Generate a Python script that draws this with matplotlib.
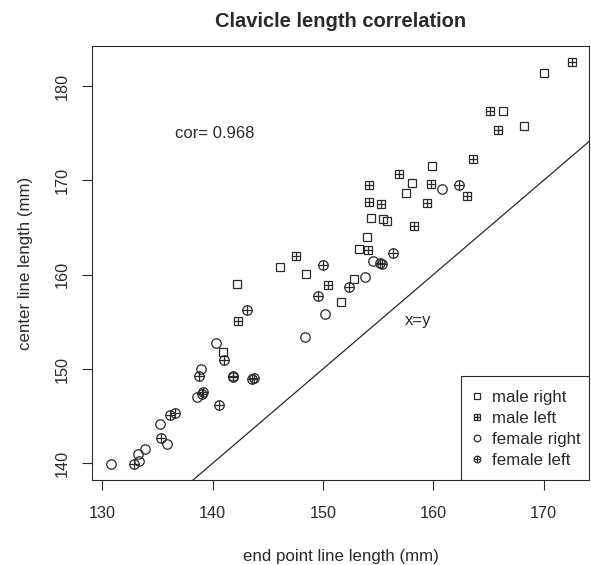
import matplotlib
matplotlib.use("Agg")
import matplotlib.pyplot as plt
from matplotlib.patches import Rectangle

plt.rcParams['font.family'] = ['Liberation Sans', 'DejaVu Sans']

# end point line length (x) and center line length (y), mm
male_right_x = [140.94, 142.18, 146.11, 148.44, 151.61, 152.82, 153.27, 154.03, 154.39,
                155.42, 155.78, 157.53, 158.10, 159.92, 166.33, 168.26, 170.05]
male_right_y = [151.83, 158.98, 160.85, 160.07, 157.14, 159.51, 162.73, 164.03, 165.98,
                165.87, 165.69, 168.63, 169.69, 171.53, 177.36, 175.77, 181.42]

male_left_x = [142.26, 147.56, 150.49, 154.12, 154.18, 155.27, 154.18, 156.90,
               158.26, 159.46, 159.77, 163.09, 163.58, 165.15, 165.85, 172.56]
male_left_y = [155.14, 161.98, 158.94, 162.65, 167.68, 167.53, 169.51, 170.68,
               165.20, 167.60, 169.65, 168.35, 172.24, 177.36, 175.34, 182.59]

female_right_x = [130.76, 133.33, 133.21, 133.87, 135.23, 135.89, 138.61, 138.92,
                  140.31, 148.38, 150.16, 153.82, 154.51, 160.77]
female_right_y = [139.89, 140.21, 140.99, 141.55, 144.14, 142.08, 147.00, 149.97,
                  152.79, 153.36, 155.86, 159.72, 161.48, 169.06]

female_left_x = [132.90, 135.32, 136.14, 136.59, 139.10, 139.04, 138.77, 140.58,
                 141.06, 141.88, 141.85, 143.54, 143.75, 143.15, 149.58, 150.04,
                 152.37, 155.18, 155.36, 156.38, 162.31]
female_left_y = [139.89, 142.65, 145.09, 145.30, 147.56, 147.40, 149.26, 146.18,
                 150.95, 149.29, 149.20, 148.91, 149.08, 156.26, 157.74, 161.06,
                 158.70, 161.21, 161.10, 162.33, 169.54]

legend_labels = ['male right', 'male left', 'female right', 'female left']
cor_text = 'cor= 0.968'

ink = '#2a2a2a'

fig = plt.figure(figsize=(5.91, 5.65), dpi=100)
ax = fig.add_axes([92 / 591, 1 - 480 / 565, 497 / 591, 434 / 565])

sq = dict(ls='none', marker='s', ms=6.2, mfc='none', mec=ink, mew=0.9)
ci = dict(ls='none', marker='o', ms=6.8, mfc='none', mec=ink, mew=0.9)

h1, = ax.plot(male_right_x, male_right_y, **sq)
h2a, = ax.plot(male_left_x, male_left_y, **sq)
h2b, = ax.plot(male_left_x, male_left_y, ls='none', marker='+', ms=6.2, mec=ink, mew=0.9)
h3, = ax.plot(female_right_x, female_right_y, **ci)
h4a, = ax.plot(female_left_x, female_left_y, **ci)
h4b, = ax.plot(female_left_x, female_left_y, ls='none', marker='+', ms=6.8, mec=ink, mew=0.9)

# x = y reference line
ax.axline((140, 140), slope=1, color=ink, lw=0.9)
ax.text(158.6, 155.1, 'x=y', ha='center', va='center', fontsize=12, color=ink)
ax.text(140.2, 175.0, cor_text, ha='center', va='center', fontsize=12, color=ink)

ax.set_xlim(129.07, 174.12)
ax.set_ylim(138.23, 184.25)
ax.set_xticks([130, 140, 150, 160, 170])
ax.set_yticks([140, 150, 160, 170, 180])
ax.tick_params(axis='both', direction='out', length=7, width=0.8, color=ink,
               labelsize=11.7, labelcolor=ink)
ax.tick_params(axis='x', pad=12)
ax.tick_params(axis='y', pad=9)
for lab in ax.get_yticklabels():
    lab.set_rotation(90)
    lab.set_va('center')
for s in ax.spines.values():
    s.set_color(ink)
    s.set_linewidth(0.8)

ax.set_xlabel('end point line length (mm)', fontsize=12.2, color=ink, labelpad=20)
ax.set_ylabel('center line length (mm)', fontsize=12.2, color=ink, labelpad=16)
ax.set_title('Clavicle length correlation', fontsize=14.5, fontweight='bold', color=ink, pad=14)

# legend box drawn separately (R style: larger vertical padding)
ax.add_patch(Rectangle((0.742, 0.0), 0.258, 0.2403, transform=ax.transAxes,
                       fill=True, fc='white', ec=ink, lw=0.8, zorder=4))
leg = ax.legend([h1, (h2a, h2b), h3, (h4a, h4b)], legend_labels, loc='center left',
                bbox_to_anchor=(0.757, 0.1177), frameon=False, borderpad=0,
                borderaxespad=0, fontsize=12.2, handlelength=1.0,
                handletextpad=0.39, labelspacing=0.34, markerscale=0.7)
leg.set_zorder(5)
for t in leg.get_texts():
    t.set_color(ink)

fig.savefig('out.png', dpi=100)
